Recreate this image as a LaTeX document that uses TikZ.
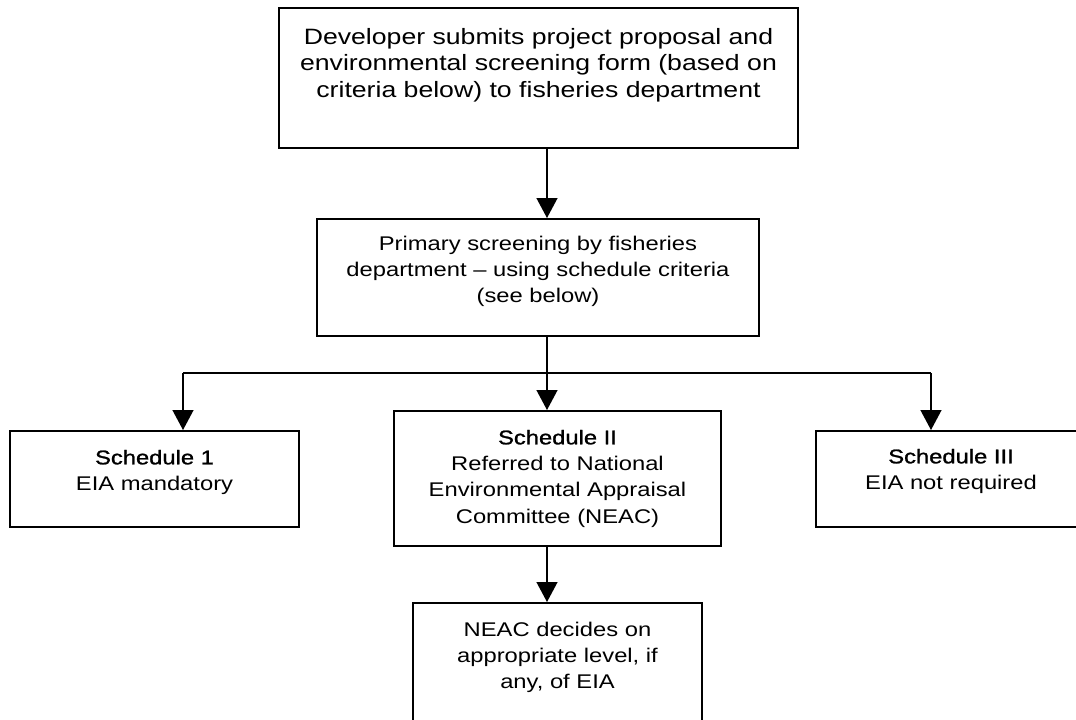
\documentclass[tikz,border=0pt]{standalone}
\usepackage{fontspec}
\setmainfont{Liberation Sans}[FakeStretch=1.2]
\newfontfamily\headfont{Liberation Sans}[FakeStretch=1.2,FakeBold=1.2]
\usetikzlibrary{arrows.meta,calc}

\begin{document}
\begin{tikzpicture}[x=0.75pt,y=-0.75pt,
  box/.style={draw, line width=1.5pt, inner sep=0pt},
  body/.style={align=center, inner sep=0pt, anchor=north,
    font=\fontsize{14.85pt}{19.7pt}\selectfont},
  bodybig/.style={body, font=\fontsize{16.65pt}{19.9pt}\selectfont},
  link/.style={line width=1pt},
  arr/.style={link, -{Triangle[width=15.75pt,length=15pt]}}
]
\useasboundingbox (0,0) rectangle (1076,719);
\clip (0,0) rectangle (1076,719);

% boxes
\node[box, minimum width=389.25pt, minimum height=105pt]   (b1)   at (538.5,78)  {};
\node[box, minimum width=331.5pt,  minimum height=87.75pt] (b2)   at (538,277.5) {};
\node[box, minimum width=216.75pt, minimum height=72pt]    (s1)   at (154.5,479) {};
\node[box, minimum width=245.25pt, minimum height=101.25pt] (s2)  at (557.5,478.5) {};
\node[box, minimum width=202.5pt,  minimum height=72pt]    (s3)   at (951,479) {};
\node[box, minimum width=216.75pt, minimum height=101.25pt] (neac) at (557.5,670.5) {};

% texts
\node[bodybig] (b1t) at ($(b1.north)+(0,21)$)
  {Developer submits project proposal and\\
   environmental screening form (based on\\
   criteria below) to fisheries department};
\node[body] (b2t) at ($(b2.north)+(0,17.4)$)
  {Primary screening by fisheries\\
   department – using schedule criteria\\
   (see below)};
\node[body] (s1t) at ($(s1.north)+(0,19.7)$)
  {{\headfont Schedule 1}\\EIA mandatory};
\node[body] (s2t) at ($(s2.north)+(0,19.7)$)
  {{\headfont Schedule II}\\Referred to National\\
   Environmental Appraisal\\Committee (NEAC)};
\node[body] (s3t) at ($(s3.north)+(0,18.7)$)
  {{\headfont Schedule III}\\EIA not required};
\node[body] (neact) at ($(neac.north)+(0,19.4)$)
  {NEAC decides on\\appropriate level, if\\any, of EIA};

% connectors
\coordinate (trunk) at (547,0);
\coordinate (jl) at (183,373);
\coordinate (jr) at (931,373);
\draw[arr] (b1.south -| trunk) -- (b2.north -| trunk);
\draw[arr] (b2.south -| trunk) -- (s2.north -| trunk);
\draw[link] (jl) -- (jr);
\draw[arr] (jl) -- (jl |- s1.north);
\draw[arr] (jr) -- (jr |- s3.north);
\draw[arr] (s2.south -| trunk) -- (neac.north -| trunk);
\end{tikzpicture}
\end{document}
